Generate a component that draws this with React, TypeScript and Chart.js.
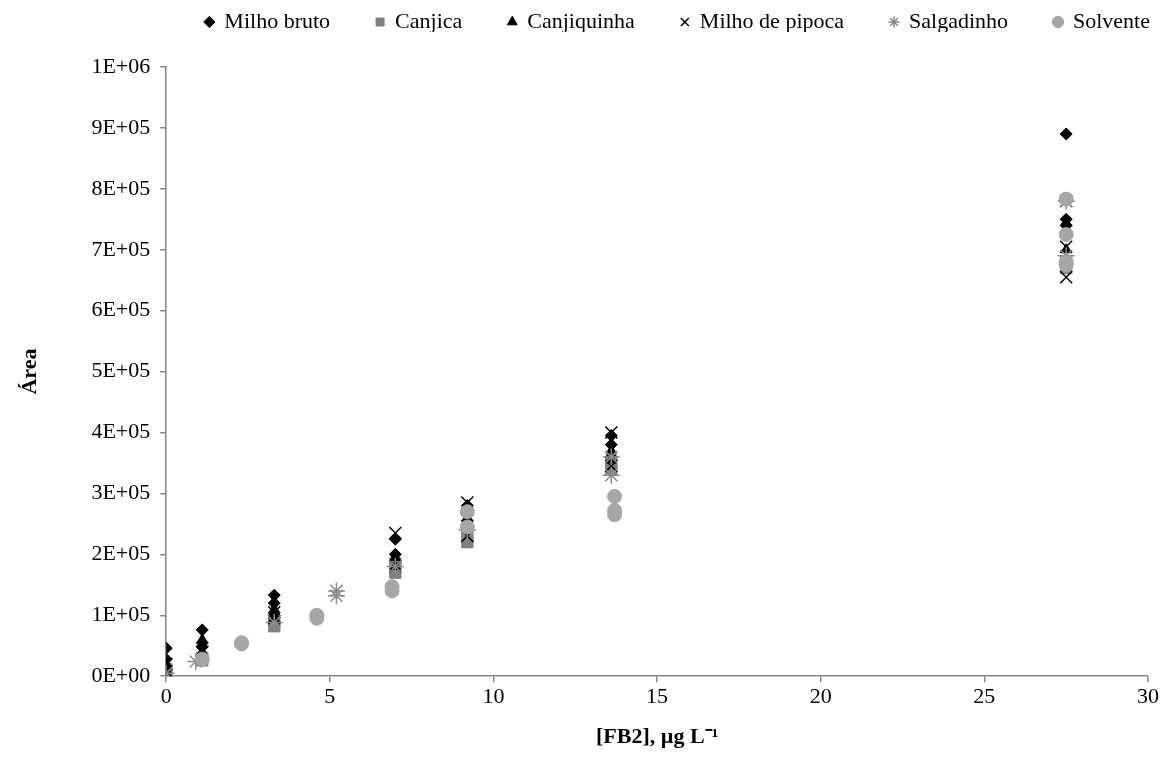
import React, { useEffect, useRef } from "react";
import { Chart, registerables } from "chart.js";

Chart.register(...registerables);

const seriesNames = ["Milho bruto", "Canjica", "Canjiquinha", "Milho de pipoca", "Salgadinho", "Solvente"];
const seriesColors = ["#000000", "#808080", "#000000", "#000000", "#8c8c8c", "#a6a6a6"];
const seriesStyles = ["rectRot", "rect", "triangle", "crossRot", "star", "circle"];
const seriesRadius = [6, 8, 6, 8.5, 8.5, 7];

const milhoBrutoX = [0, 0, 0, 1.1, 1.1, 1.1, 3.3, 3.3, 3.3, 7.0, 7.0, 7.0, 9.2, 9.2, 9.2, 13.6, 13.6, 13.6, 27.5, 27.5, 27.5];
const milhoBrutoY = [46000, 28000, 15000, 76000, 55000, 48000, 133000, 120000, 100000, 225000, 200000, 190000, 280000, 255000, 265000, 395000, 380000, 360000, 890000, 750000, 740000];

const canjicaX = [0, 0, 0, 1.1, 1.1, 3.3, 3.3, 7.0, 7.0, 9.2, 9.2, 13.6, 13.6, 27.5, 27.5];
const canjicaY = [0, 5000, 12000, 30000, 26000, 82000, 90000, 170000, 185000, 220000, 230000, 340000, 350000, 680000, 670000];

const canjiquinhaX = [0, 0, 1.1, 1.1, 3.3, 3.3, 7.0, 7.0, 9.2, 13.6, 13.6, 27.5, 27.5];
const canjiquinhaY = [10000, 20000, 60000, 40000, 110000, 95000, 195000, 180000, 260000, 370000, 355000, 745000, 700000];

const pipocaX = [0, 0, 1.1, 3.3, 3.3, 7.0, 7.0, 9.2, 9.2, 13.6, 13.6, 27.5, 27.5, 27.5];
const pipocaY = [8000, 20000, 40000, 95000, 105000, 235000, 180000, 285000, 230000, 400000, 345000, 705000, 655000, 780000];

const salgadinhoX = [0, 0.9, 3.3, 5.2, 5.2, 7.0, 9.2, 13.6, 13.6, 27.5, 27.5];
const salgadinhoY = [5000, 24000, 88000, 132000, 140000, 180000, 240000, 330000, 360000, 690000, 780000];

const solventeX = [1.1, 2.3, 2.3, 4.6, 4.6, 6.9, 6.9, 9.2, 9.2, 13.7, 13.7, 13.7, 27.5, 27.5, 27.5, 27.5];
const solventeY = [28000, 53000, 55000, 95000, 100000, 140000, 147000, 270000, 245000, 295000, 272000, 265000, 783000, 725000, 680000, 675000];

const seriesX = [milhoBrutoX, canjicaX, canjiquinhaX, pipocaX, salgadinhoX, solventeX];
const seriesY = [milhoBrutoY, canjicaY, canjiquinhaY, pipocaY, salgadinhoY, solventeY];

const xTitle = "[FB2], µg L⁻¹";
const yTitle = "Área";

function sci(v: number): string {
  if (v === 0) return "0E+00";
  const e = Math.floor(Math.log10(v) + 1e-9);
  const m = Math.round(v / Math.pow(10, e));
  return `${m}E+${String(e).padStart(2, "0")}`;
}

const LEGEND_PAD = 46;
const LEGEND_FONT = 22;

const legendPlacer = {
  id: "legendPlacer",
  beforeInit(chart: any) {
    const lg = chart.legend;
    if (lg && !lg.__patched) {
      const orig = lg.fit;
      lg.fit = function () {
        orig.call(this);
        this.height = 67;
      };
      lg.__patched = true;
    }
  },
  afterLayout(chart: any) {
    const lg = chart.legend;
    if (!lg) return;
    lg.top = 22 - LEGEND_PAD - LEGEND_FONT / 2;
    lg.bottom = lg.top + 67;
    const w = lg.right - lg.left;
    lg.right = 1150 + LEGEND_PAD;
    lg.left = lg.right - w;
  },
};

export default function App() {
  const ref = useRef<HTMLCanvasElement | null>(null);
  useEffect(() => {
    document.body.style.margin = "0";
    const font = "'Liberation Serif', 'Times New Roman', serif";
    const datasets = seriesNames.map((name, i) => ({
      label: name,
      data: seriesX[i].map((x, j) => ({ x, y: seriesY[i][j] })),
      pointStyle: seriesStyles[i] as any,
      pointRadius: seriesRadius[i],
      pointHoverRadius: seriesRadius[i],
      backgroundColor: seriesColors[i],
      borderColor: seriesColors[i],
      pointBorderWidth: i === 3 || i === 4 ? 1.5 : 1,
      order: seriesNames.length - i,
    }));
    const chart = new Chart(ref.current!, {
      type: "scatter",
      data: { datasets },
      plugins: [legendPlacer],
      options: {
        animation: false,
        responsive: false,
        layout: { padding: { left: 8, right: 22, top: 0, bottom: 16 } },
        plugins: {
          tooltip: { enabled: false },
          legend: {
            position: "top",
            align: "end",
            labels: {
              usePointStyle: true,
              boxWidth: 8,
              boxHeight: 8,
              padding: LEGEND_PAD,
              color: "#000",
              font: { family: font, size: LEGEND_FONT },
              sort: (a: any, b: any) => a.datasetIndex - b.datasetIndex,
            },
          },
        },
        scales: {
          x: {
            type: "linear",
            min: 0,
            max: 30,
            ticks: { stepSize: 5, color: "#000", font: { family: font, size: 22 }, padding: 2 },
            grid: { drawOnChartArea: false, drawTicks: true, tickLength: 6, color: "#868686", lineWidth: 1.5 },
            border: { color: "#868686", width: 1.5 },
            title: { display: true, text: xTitle, color: "#000", padding: { top: 12, bottom: 4 }, font: { family: font, size: 22, weight: "bold" } },
          },
          y: {
            type: "linear",
            min: 0,
            max: 1000000,
            ticks: { stepSize: 100000, color: "#000", font: { family: font, size: 22 }, padding: 10, callback: (v: any) => sci(Number(v)) },
            grid: { drawOnChartArea: false, drawTicks: true, tickLength: 6, color: "#868686", lineWidth: 1.5 },
            border: { color: "#868686", width: 1.5 },
            title: { display: true, text: yTitle, color: "#000", padding: { top: 9, bottom: 38 }, font: { family: font, size: 22, weight: "bold" } },
          },
        },
      },
    });
    return () => chart.destroy();
  }, []);
  return <canvas ref={ref} width={1170} height={771} style={{ display: "block" }} />;
}
